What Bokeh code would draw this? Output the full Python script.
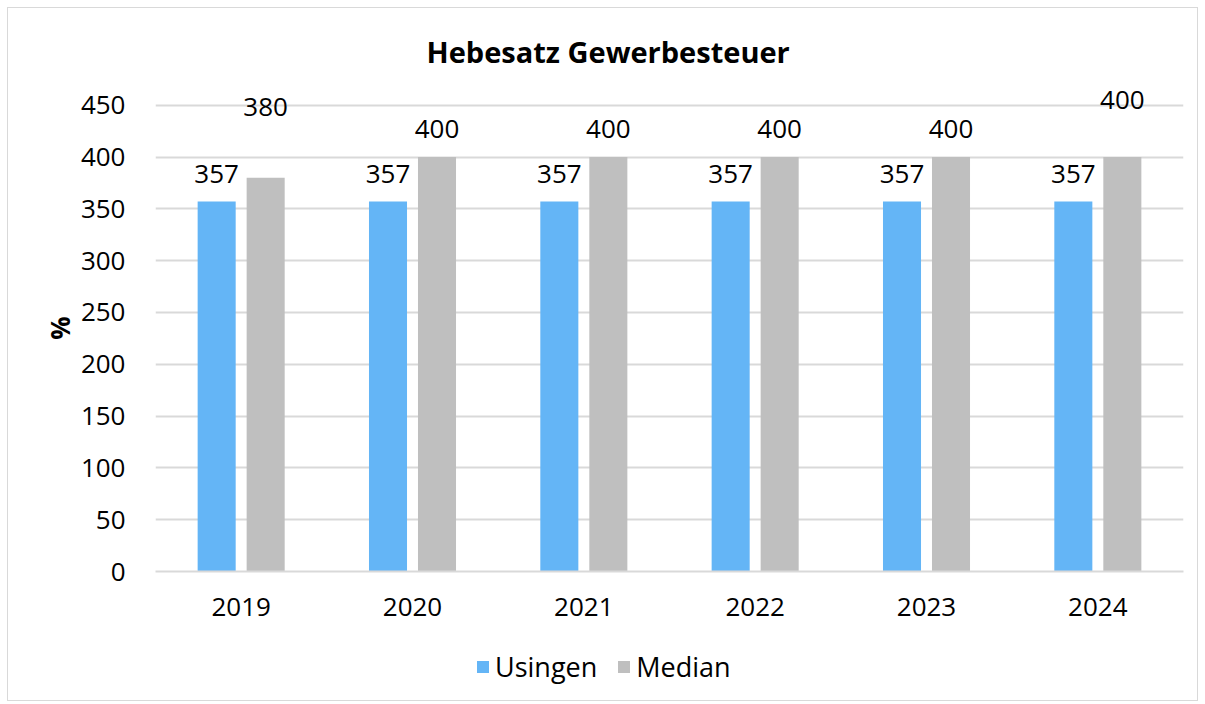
from bokeh.plotting import figure
from bokeh.layouts import column
from bokeh.models import ColumnDataSource, FactorRange, FixedTicker, LabelSet, Legend, LegendItem
from bokeh.core.properties import value
from bokeh.transform import dodge
from bokeh.embed import file_html
from bokeh.resources import INLINE

years = ["2019", "2020", "2021", "2022", "2023", "2024"]
usingen = [357, 357, 357, 357, 357, 357]
median = [380, 400, 400, 400, 400, 400]
y_ticks = [0, 50, 100, 150, 200, 250, 300, 350, 400, 450]
series = ["Usingen", "Median"]

FONT = "Open Sans"
FS = "26px"
BLUE = "#64B5F6"
GREY = "#BFBFBF"
GRID = "#D9D9D9"

# label placement (value + standard gap), with Excel's displaced labels
lab_gap = 27
med_label_y = [v + lab_gap for v in median]
med_label_y[0] = 448
med_label_y[5] = 455

src = ColumnDataSource(dict(
    years=years, usingen=usingen, median=median,
    u_lab=[str(v) for v in usingen], m_lab=[str(v) for v in median],
    u_y=[v + lab_gap for v in usingen], m_y=med_label_y,
))

p = figure(x_range=FactorRange(*years), y_range=(0, 470),
           width=1189, height=632, output_backend="svg", toolbar_location=None,
           min_border_left=147, min_border_right=14, min_border_top=76, min_border_bottom=69,
           title="Hebesatz Gewerbesteuer")
p.outline_line_color = None
p.background_fill_color = "white"
p.title.align = "left"
p.title.offset = 271
p.title.text_font = FONT
p.title.text_font_size = "29px"
p.title.text_font_style = "bold"
p.title.text_color = "black"
p.title.standoff = 27

r1 = p.vbar(x=dodge("years", -0.143, range=p.x_range), top="usingen", width=0.222,
            source=src, color=BLUE, line_color=None)
r2 = p.vbar(x=dodge("years", 0.143, range=p.x_range), top="median", width=0.222,
            source=src, color=GREY, line_color=None)

for xs, ys, ts in [(-0.143, "u_y", "u_lab"), (0.143, "m_y", "m_lab")]:
    p.add_layout(LabelSet(x=dodge("years", xs, range=p.x_range), y=ys, text=ts, source=src,
                          text_align="center", text_baseline="middle",
                          text_font=value(FONT), text_font_size=value(FS), text_color="black"))

p.yaxis.ticker = FixedTicker(ticks=y_ticks)
p.ygrid.ticker = FixedTicker(ticks=y_ticks)
p.ygrid.grid_line_color = GRID
p.ygrid.grid_line_width = 2
p.xgrid.grid_line_color = None
for ax in (p.xaxis, p.yaxis):
    ax.major_tick_line_color = None
    ax.minor_tick_line_color = None
    ax.major_label_text_font = FONT
    ax.major_label_text_font_size = FS
    ax.major_label_text_color = "black"
p.yaxis.axis_line_color = None
p.xaxis.axis_line_color = GRID
p.xaxis.axis_line_width = 2
p.yaxis.major_label_standoff = 24
p.xaxis.major_label_standoff = 20
p.yaxis.axis_label = "%"
p.yaxis.axis_label_text_font = FONT
p.yaxis.axis_label_text_font_style = "bold"
p.yaxis.axis_label_text_font_size = FS
p.yaxis.axis_label_text_color = "black"
p.yaxis.axis_label_standoff = 0

# legend in its own strip below the chart (swatch renderers sit outside its visible range)
lg = figure(width=1189, height=60, output_backend="svg", toolbar_location=None,
            x_range=(0, 1), y_range=(0, 1), x_axis_location=None, y_axis_location=None,
            min_border=0)
lg.outline_line_color = None
lg.grid.visible = False
swatch = ColumnDataSource(dict(x=[-10], top=[-10]))
d1 = lg.vbar(x="x", top="top", width=0.1, source=swatch, color=BLUE, line_color=None)
d2 = lg.vbar(x="x", top="top", width=0.1, source=swatch, color=GREY, line_color=None)
legend = Legend(items=[LegendItem(label=series[0], renderers=[d1]),
                       LegendItem(label=series[1], renderers=[d2])],
                orientation="horizontal", location=(320, 15),
                label_text_font=FONT, label_text_font_size="27px", label_text_color="black",
                glyph_width=15, glyph_height=15, spacing=19, label_standoff=5,
                border_line_color=None, background_fill_alpha=0, margin=0, padding=0)
lg.add_layout(legend, "center")

layout = column(p, lg, spacing=0)
layout.styles = {"margin": "8px 0 0 8px", "outline": "1px solid #D9D9D9"}

open("out.html", "w").write(file_html(layout, INLINE))
